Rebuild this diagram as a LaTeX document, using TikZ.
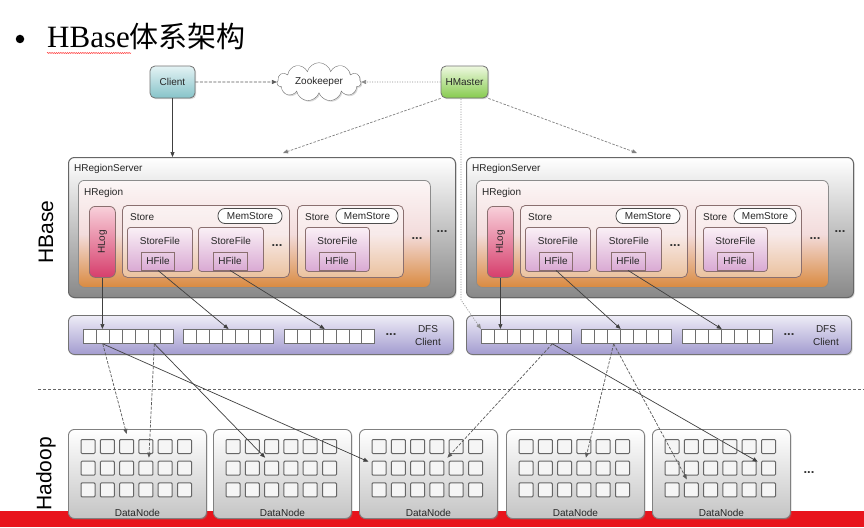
\documentclass[tikz,border=0pt]{standalone}
\usepackage{fontspec}
\setsansfont{Liberation Sans}
\newfontfamily\titlefont{Liberation Serif}
\newfontfamily\cjkfont{Noto Sans CJK SC}
\usetikzlibrary{shapes.symbols,arrows.meta,shadows,calc,decorations.pathmorphing}
\definecolor{clientTop}{HTML}{E4F3F4}
\definecolor{clientBot}{HTML}{86C3C9}
\definecolor{masterTop}{HTML}{EEF8E0}
\definecolor{masterBot}{HTML}{86CB4E}
\definecolor{srvBot}{HTML}{888888}
\definecolor{regTop}{HTML}{FCF6F6}
\definecolor{regMid}{HTML}{F3DCDC}
\definecolor{regBot}{HTML}{D98A40}
\definecolor{sfTop}{HTML}{FAF0F6}
\definecolor{sfBot}{HTML}{D9A9D3}
\definecolor{logTop}{HTML}{F8D0DA}
\definecolor{logBot}{HTML}{D63E6C}
\definecolor{dfsTop}{HTML}{EEECF7}
\definecolor{dfsBot}{HTML}{A39CCF}
\definecolor{dnBot}{HTML}{C4C4C4}
\definecolor{bandred}{HTML}{E8141C}
\definecolor{edge}{HTML}{6E6E6E}
\definecolor{brownedge}{HTML}{8A6F6F}
\tikzset{
  lbl/.style={font=\sffamily\fontsize{10}{11}\selectfont, inner sep=0pt, text=black!85},
  dotsl/.style={font=\sffamily\bfseries\fontsize{13}{13}\selectfont, inner sep=0pt, text=black!80},
  shadowed/.style={drop shadow={shadow xshift=1.2pt, shadow yshift=-1.2pt, opacity=0.3}},
  topbox/.style={draw=black!55, line width=0.8pt, rounded corners=5pt, inner sep=0pt,
    font=\sffamily\fontsize{10}{11}\selectfont, text=black!85, shadowed},
  clientbox/.style={topbox, top color=clientTop, bottom color=clientBot},
  masterbox/.style={topbox, top color=masterTop, bottom color=masterBot},
  srv/.style={draw=black!60, line width=1pt, rounded corners=6pt, top color=white, bottom color=srvBot, shadowed},
  region/.style={draw=black!45, line width=0.8pt, rounded corners=6pt, top color=regTop, bottom color=regBot, middle color=regMid},
  hlogbox/.style={draw=brownedge, line width=0.8pt, rounded corners=6pt, top color=logTop, bottom color=logBot},
  storebox/.style={draw=brownedge, line width=0.8pt, rounded corners=5pt, fill=white, fill opacity=0.4},
  mem/.style={draw=black!70, line width=0.8pt, rounded corners=7pt, fill=white, inner sep=0pt,
    font=\sffamily\fontsize{10}{11}\selectfont, text=black!85},
  sfile/.style={draw=brownedge, line width=0.8pt, rounded corners=3pt, top color=sfTop, bottom color=sfBot},
  hfile/.style={draw=brownedge, line width=0.8pt, top color=sfTop!50!sfBot, bottom color=sfBot, inner sep=0pt,
    font=\sffamily\fontsize{10}{11}\selectfont, text=black!85},
  dfsbox/.style={draw=black!55, line width=0.9pt, rounded corners=6pt, top color=dfsTop, bottom color=dfsBot, shadowed},
  dfscell/.style={draw=edge, line width=0.8pt, fill=white, minimum width=12.9pt, minimum height=14pt, inner sep=0pt},
  dnbox/.style={draw=black!50, line width=0.9pt, rounded corners=6pt, top color=white, bottom color=dnBot, shadowed},
  dncell/.style={draw=black!60, line width=1pt, fill=white!92!gray, minimum width=14pt, minimum height=14pt, rounded corners=1pt, inner sep=0pt},
  tip/.style={-{Triangle[length=5pt,width=4pt]}},
  solidlink/.style={draw=black!75, line width=0.7pt, tip},
  dashlink/.style={draw=black!65, line width=0.7pt, dash pattern=on 3pt off 1.5pt, tip},
  dotlink/.style={draw=black!45, line width=0.7pt, dash pattern=on 1pt off 1.5pt, tip},
  mastlink/.style={draw=black!50, line width=0.7pt, dash pattern=on 2.5pt off 1.5pt, tip},
}
\newcommand\hrserver[2]{%
\begin{scope}[shift={(#2,0)}]
\node[srv, anchor=north west, minimum width=387pt, minimum height=140pt] (#1hrs) at (68,157) {};
\node[lbl, anchor=west] (#1hrslbl) at (74,169) {HRegionServer};
\node[region, anchor=north west, minimum width=352pt, minimum height=107pt] (#1reg) at (78,180) {};
\node[lbl, anchor=west] (#1reglbl) at (84,193) {HRegion};
\node[hlogbox, anchor=north west, minimum width=26pt, minimum height=71pt] (#1hlog) at (89,206) {};
\node[lbl, rotate=90] (#1hloglbl) at (#1hlog) {HLog};
\node[storebox, anchor=north west, minimum width=167pt, minimum height=72pt] (#1st1) at (122,205) {};
\node[lbl, anchor=west] (#1st1lbl) at (130,217) {Store};
\node[mem, minimum width=64pt, minimum height=15pt] (#1mem1) at (250,216) {MemStore};
\node[sfile, anchor=north west, minimum width=65pt, minimum height=44pt] (#1sf1) at (127,227) {};
\node[lbl] (#1sf1lbl) at ($(#1sf1.north)+(0,14)$) {StoreFile};
\node[hfile, minimum width=33pt, minimum height=18pt] (#1hf1) at (158,261) {HFile};
\node[sfile, anchor=north west, minimum width=65pt, minimum height=44pt] (#1sf2) at (198,227) {};
\node[lbl] (#1sf2lbl) at ($(#1sf2.north)+(0,14)$) {StoreFile};
\node[hfile, minimum width=34pt, minimum height=18pt] (#1hf2) at (230,261) {HFile};
\node[dotsl] (#1dotsA) at (277,246) {...};
\node[storebox, anchor=north west, minimum width=106pt, minimum height=72pt] (#1st2) at (297,205) {};
\node[lbl, anchor=west] (#1st2lbl) at (305,217) {Store};
\node[mem, minimum width=62pt, minimum height=15pt] (#1mem2) at (367,216) {MemStore};
\node[sfile, anchor=north west, minimum width=64pt, minimum height=44pt] (#1sf3) at (305,227) {};
\node[lbl] (#1sf3lbl) at ($(#1sf3.north)+(0,14)$) {StoreFile};
\node[hfile, minimum width=36pt, minimum height=18pt] (#1hf3) at (337,261) {HFile};
\node[dotsl] (#1dotsB) at (417,239) {...};
\node[dotsl] (#1dotsC) at (442,232) {...};
\end{scope}}
\newcommand\dfsclient[2]{%
\begin{scope}[shift={(#2,0)}]
\node[dfsbox, anchor=north west, minimum width=385pt, minimum height=39pt] (#1dfs) at (68,315) {};
\foreach \g/\gx in {1/83,2/183,3/284}{
  \foreach \c in {1,...,7}{
    \node[dfscell, anchor=north west] (#1g\g c\c) at ({\gx+(\c-1)*12.9},329) {};
  }
}
\node[dotsl] (#1dots) at (391,335) {...};
\node[lbl, align=center] (#1dfslbl) at (428,336) {DFS\\[2pt]Client};
\end{scope}}
\begin{document}
\begin{tikzpicture}[x=1pt,y=-1pt]
\useasboundingbox (0,0) rectangle (864,527);
\fill[white] (0,0) rectangle (864,527);
% title
\node[circle, fill=black, minimum size=8.5pt, inner sep=0pt] (bullet) at (20,39) {};
\node[anchor=base west, inner sep=0pt] (title) at (47,48)
  {\titlefont\fontsize{31}{32}\selectfont HBase\cjkfont\fontsize{29}{32}\selectfont 体系架构};
\draw[red!75, line width=0.5pt, decorate, decoration={snake, amplitude=0.6pt, segment length=2.2pt}]
  (47,53) -- (131,53);
% side labels
\node[rotate=90, font=\sffamily\fontsize{21}{21}\selectfont] (hbaselbl) at (46,232) {HBase};
\node[rotate=90, font=\sffamily\fontsize{21}{21}\selectfont] (hadooplbl) at (46,474) {Hadoop};
% top row
\node[clientbox, minimum width=45pt, minimum height=32pt] (cl) at (172.5,82) {Client};
\node[cloud, cloud puffs=11, aspect=2.7, draw=black!55, fill=white, minimum width=84pt, minimum height=32pt,
  inner sep=0pt, lbl, shadowed] (zk) at (319,82) {Zookeeper};
\node[masterbox, minimum width=47pt, minimum height=32pt] (hm) at (464.5,82) {HMaster};
% servers
\hrserver{L}{0}
\hrserver{R}{398}
\dfsclient{L}{0}
\dfsclient{R}{398}
% separator
\draw[black!60, line width=0.8pt, dash pattern=on 3pt off 2pt] (38,389) -- (864,389);
% red band
\fill[bandred] (0,511) rectangle (864,527);
% datanodes
\foreach \i/\dx in {1/68,2/213,3/359,4/506,5/652}{
  \node[dnbox, anchor=north west, minimum width=138pt, minimum height=89pt] (dn\i) at (\dx,429) {};
  \node[lbl] (dnl\i) at ($(dn\i.south)+(0,-6)$) {DataNode};
  \foreach \c in {1,...,6}{
    \foreach \r in {1,2,3}{
      \node[dncell, anchor=north west] (dn\i-\c-\r) at ({\dx+12.5+(\c-1)*19.3},{439+(\r-1)*21.7}) {};
    }
  }
}
\node[dotsl] (dndots) at (809,473) {...};
% top connectors
\draw[dashlink] (cl.east) -- (zk.west);
\draw[dotlink] (hm.west) -- (zk.east);
\draw[solidlink] (cl.south) -- (cl.south |- Lhrs.north);
\coordinate (lhit) at (283,153);
\coordinate (rhit) at (637,153);
\draw[mastlink] (hm.south west) -- (lhit);
\draw[mastlink] (hm.south east) -- (rhit);
\coordinate (hmtop) at (461,99);
\coordinate (hmbend) at (461,300);
\draw[dotlink] (hmtop) -- (hmbend) -- (Rg1c1.north west);
% HBase -> DFS
\draw[solidlink] (Lhlog.south) -- (Lhlog.south |- Lg1c2.north);
\draw[solidlink] (Lhf1.south) -- (Lg2c4.north);
\draw[solidlink] (Lhf2.south) -- ($(Lg3c4.north west)+(2,0)$);
\draw[solidlink] (Rhlog.south) -- (Rhlog.south |- Rg1c2.north);
\draw[solidlink] (Rhf1.south) -- ($(Rg2c4.north west)+(1,0)$);
\draw[solidlink] (Rhf2.south) -- ($(Rg3c4.north west)+(1,0)$);
% DFS -> DataNodes
\draw[dashlink] (Lg1c2.south) -- ($(dn1-3-1.north)+(0,-5)$);
\draw[solidlink] (Lg1c2.south) -- ($(dn3-1-2.north west)+(-3,1)$);
\draw[dashlink] (Lg1c6.south) -- ($(dn1-4-2.north)+(3,-3)$);
\draw[solidlink] (Lg1c6.south) -- ($(dn2-3-2.north west)+(1,-3)$);
\draw[dashlink] (Rg1c6.south) -- ($(dn3-4-2.north east)+(3,-3)$);
\draw[solidlink] (Rg1c6.south) -- ($(dn5-5-2.north east)+(1,1)$);
\draw[dashlink] (Rg2c3.south) -- ($(dn4-4-2.north)+(2,-3)$);
\draw[dashlink] (Rg2c3.south) -- ($(dn5-2-3.north west)+(3,-3)$);
\end{tikzpicture}
\end{document}
